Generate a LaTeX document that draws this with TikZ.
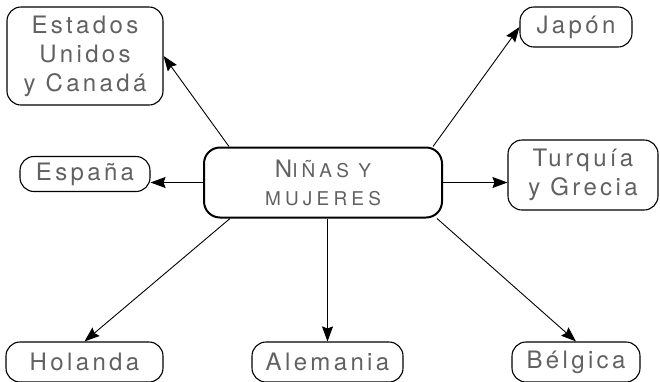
\documentclass[tikz,border=0pt]{standalone}
\usepackage{fontspec}
\setmainfont{TeX Gyre Heros}[LetterSpace=14]
\usetikzlibrary{arrows.meta,positioning,shapes}

\newcommand{\smallcapsize}{\fontsize{19}{29}\addfontfeatures{LetterSpace=22}\selectfont}

\begin{document}
\begin{tikzpicture}[x=1pt,y=-1pt,
                    every edge/.style={draw,line width=0.9pt,
                                       -{Stealth[length=15pt,width=11pt,inset=2pt]}},
                    place/.style={draw,rounded corners=14pt,line width=1.1pt,inner sep=0pt,
                                  align=center,text=black!62,
                                  font=\fontsize{24}{29}\selectfont},
                    hub/.style={place,rounded corners=16pt,line width=2pt}]

        \useasboundingbox (0,0) rectangle (660,381);

        \node[hub,minimum width=238pt,minimum height=70pt] (c) at (323,182.5)
              {N{\smallcapsize IÑAS Y}\\[-1pt]{\smallcapsize MUJERES}};
        \node[place,minimum width=156pt,minimum height=98pt] (eu) at (85,56) {Estados\\Unidos\\y Canadá};
        \node[place,minimum width=112pt,minimum height=40pt] (jp) at (576,27) {Japón};
        \node[place,minimum width=130pt,minimum height=35pt] (es) at (85,174) {España};
        \node[place,minimum width=150pt,minimum height=70pt] (tg) at (583,175) {Turquía\\y Grecia};
        \node[place,minimum width=157pt,minimum height=40pt] (ho) at (84.5,362) {Holanda};
        \node[place,minimum width=151pt,minimum height=40pt] (al) at (327.5,362) {Alemania};
        \node[place,minimum width=128pt,minimum height=40pt] (be) at (576,362) {Bélgica};

        \path ([xshift=26pt]c.north west) edge (eu.east)
              ([xshift=-10pt]c.north east) edge (jp.west)
              (c.west) edge (c.west -| es.east)
              (c.east) edge (c.east -| tg.west)
              ([xshift=27pt]c.south west) edge (ho.north)
              (c.south -| al.north) edge (al.north)
              ([xshift=-6pt]c.south east) edge (be.north)
              ;
      \end{tikzpicture}
\end{document}
